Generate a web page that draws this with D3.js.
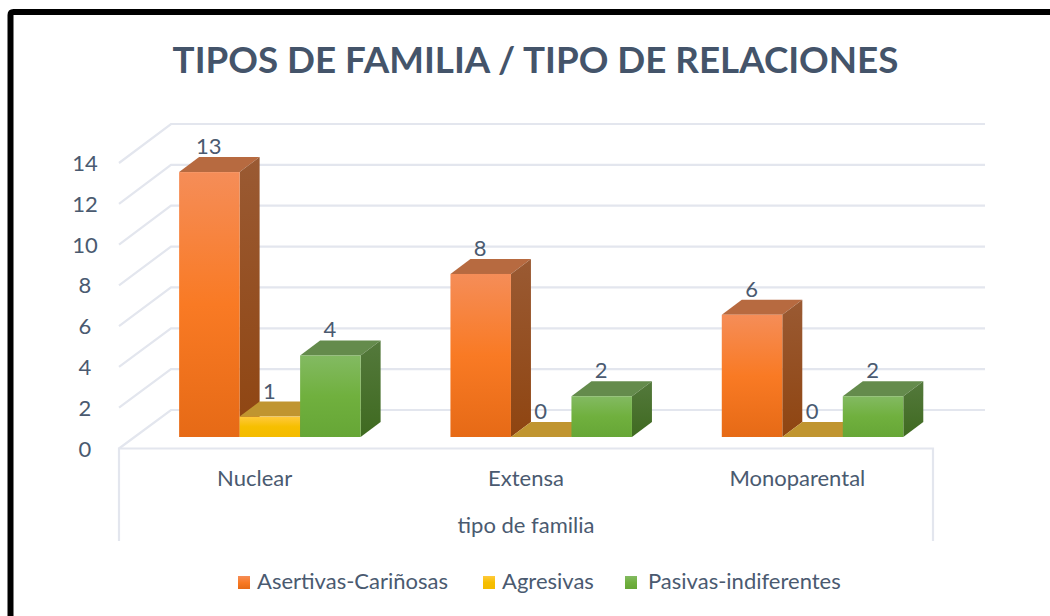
<!DOCTYPE html>
<html><head><meta charset="utf-8">
<script src="https://cdn.jsdelivr.net/npm/d3@7/dist/d3.min.js"></script>
<style>html,body{margin:0;padding:0;background:#fff;overflow:hidden}svg{display:block}text{font-family:Lato,"Open Sans",sans-serif;fill:#4a5a70}</style>
</head><body><svg id="c" width="1050" height="616"></svg>
<script>
const titleText = "TIPOS DE FAMILIA / TIPO DE RELACIONES";
const axisTitle = "tipo de familia";
const categories = ["Nuclear", "Extensa", "Monoparental"];
const seriesNames = ["Asertivas-Cariñosas", "Agresivas", "Pasivas-indiferentes"];
const asertivas = [13, 8, 6];
const agresivas = [1, 0, 0];
const pasivas = [4, 2, 2];
const yTicks = [0, 2, 4, 6, 8, 10, 12, 14];

const seriesValues = [asertivas, agresivas, pasivas];
const palette = [
  {front:["#f58d58","#f97a24","#e66a16"], top:"#b76a40", side:["#9a5a33","#8f4511"]},
  {front:["#ffc93c","#f6bf00","#f4bb00"], top:"#c09530", side:["#9a7a20","#8f6d10"]},
  {front:["#83ba62","#70b03e","#66a636"], top:"#648b4c", side:["#54793c","#3f6a20"]}
];
const svg = d3.select("#c");
const defs = svg.append("defs");
palette.forEach((p,i)=>{
  const g = defs.append("linearGradient").attr("id","f"+i).attr("x1",0).attr("x2",0).attr("y1",0).attr("y2",1);
  p.front.forEach((c,k)=>g.append("stop").attr("offset",k/2).attr("stop-color",c));
  const s = defs.append("linearGradient").attr("id","s"+i).attr("x1",0).attr("x2",0).attr("y1",0).attr("y2",1);
  p.side.forEach((c,k)=>s.append("stop").attr("offset",k).attr("stop-color",c));
});

// frame
svg.append("path").attr("d","M10.500 616V15Q10.500 12 13.500 12H1050").attr("fill","none").attr("stroke","#000").attr("stroke-width",6);

svg.append("text").attr("x",535.500).attr("y",73).attr("text-anchor","middle")
  .attr("font-size",36.750).attr("font-weight",700).attr("fill","#44546a").style("fill","#44546a").text(titleText);

// scales
const W = {x0:119,x1:933,dx:52,dy:39};
const yLeft = d3.scaleLinear().domain([0,14]).range([448.500,163]);
const yBack = d3.scaleLinear().domain([0,14]).range([410,124]);
const yBar  = d3.scaleLinear().domain([0,14]).range([437,151.700]);
const xCat = d3.scaleBand().domain(categories).range([W.x0,W.x1]);
const barW = 60.500, depthX = 20, depthY = 15, planeShift = 15.200;
const xSer = d3.scaleBand().domain(d3.range(3)).range([-1.5*barW,1.5*barW]);

// grid
const gridCol = "#e3e6ee";
const grid = svg.append("g").attr("fill","none").attr("stroke",gridCol).attr("stroke-width",2.200);
yTicks.forEach(t=>{
  grid.append("path").attr("d",`M${W.x0} ${yLeft(t)}L${W.x0+W.dx} ${yBack(t)}H${W.x1+W.dx}`);
});
grid.append("path").attr("d",`M${W.x0} 541V${yLeft(0)}H${W.x1}V541`);

// y labels
svg.append("g").selectAll("text").data(yTicks).join("text")
  .attr("x",85).attr("y",d=>yLeft(d)+8).attr("text-anchor","middle").attr("font-size",22).text(d=>d);

// bars
categories.forEach((cat,ci)=>{
  const cx = xCat(cat)+xCat.bandwidth()/2+planeShift;
  seriesValues.forEach((vals,si)=>{
    const v = vals[ci], x = cx+xSer(si), w = xSer.bandwidth(), y0 = yBar(0), y = yBar(v);
    const g = svg.append("g");
    g.append("path").attr("d",`M${x} ${y}l${depthX} ${-depthY}h${w}l${-depthX} ${depthY}Z`).attr("fill",palette[si].top);
    if(v>0){
      g.append("path").attr("d",`M${x+w} ${y}l${depthX} ${-depthY}V${y0-depthY}l${-depthX} ${depthY}Z`).attr("fill",`url(#s${si})`);
      g.append("rect").attr("x",x).attr("y",y).attr("width",w).attr("height",y0-y).attr("fill",`url(#f${si})`);
    }
  });
});
// data labels
categories.forEach((cat,ci)=>{
  const cx = xCat(cat)+xCat.bandwidth()/2+planeShift;
  seriesValues.forEach((vals,si)=>{
    svg.append("text").attr("x",cx+xSer(si)+xSer.bandwidth()/2-0.5).attr("y",yBar(vals[ci])-18)
      .attr("text-anchor","middle").attr("font-size",22).text(vals[ci]);
  });
});

// category labels
svg.append("g").selectAll("text").data(categories).join("text")
  .attr("x",d=>xCat(d)+xCat.bandwidth()/2).attr("y",486).attr("text-anchor","middle").attr("font-size",22).text(d=>d);
svg.append("text").attr("x",526).attr("y",533).attr("text-anchor","middle").attr("font-size",22).text(axisTitle);

// legend
const legX = [238,483,625], legTx=[257,502,648];
seriesNames.forEach((n,i)=>{
  svg.append("rect").attr("x",legX[i]).attr("y",576).attr("width",12).attr("height",13).attr("fill",`url(#f${i})`);
  svg.append("text").attr("x",legTx[i]).attr("y",589).attr("font-size",22).text(n);
});
</script></body></html>
